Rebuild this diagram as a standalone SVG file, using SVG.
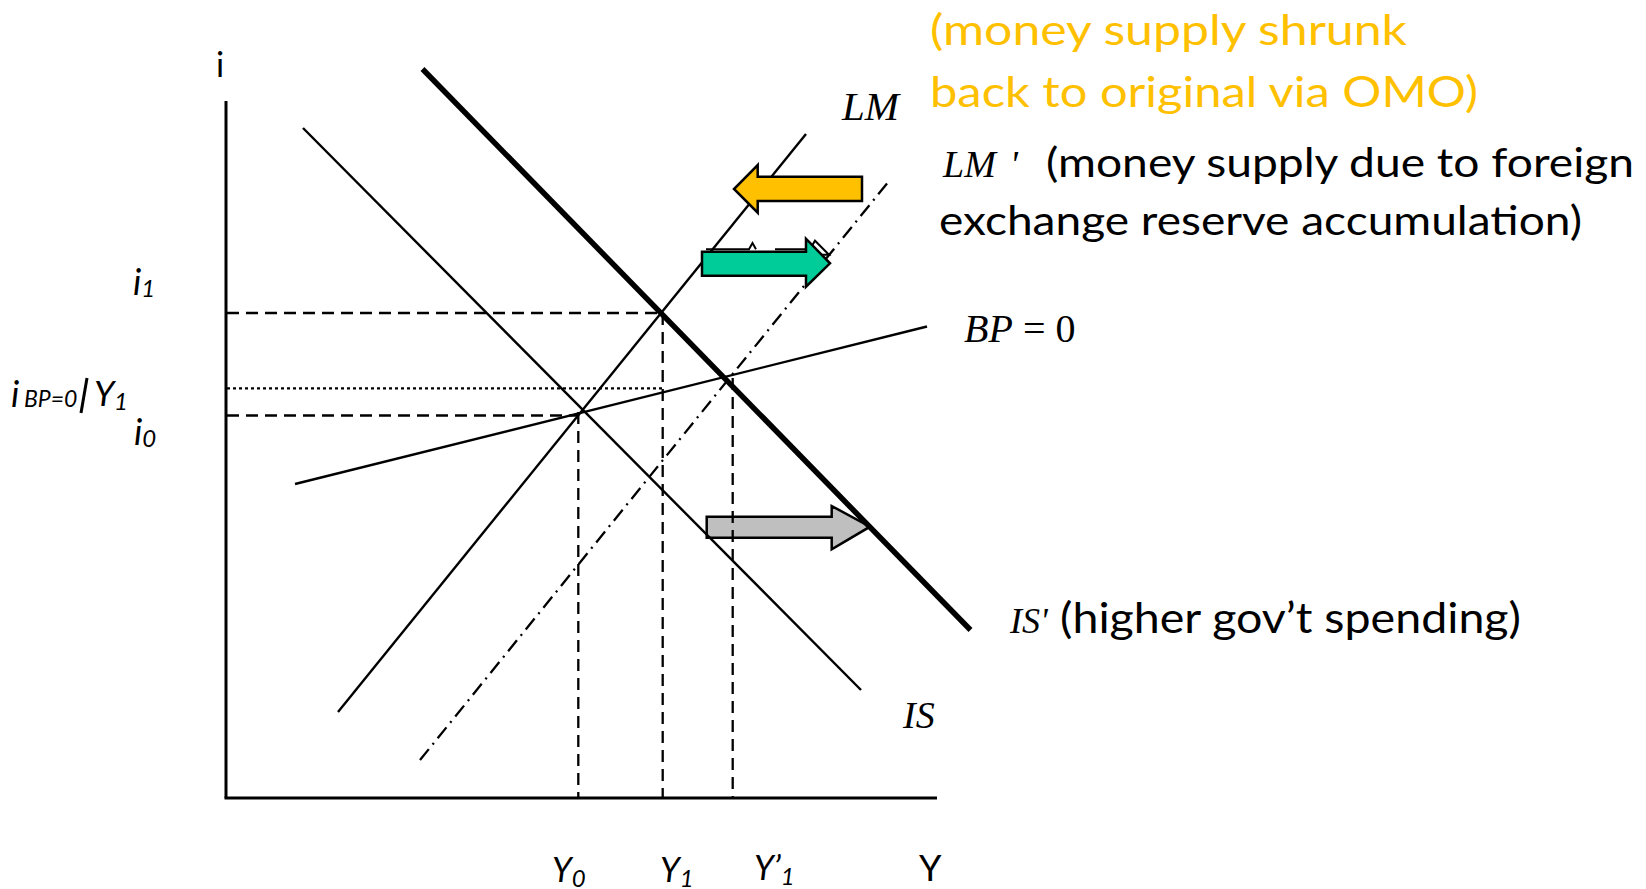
<svg xmlns="http://www.w3.org/2000/svg" width="1646" height="889" viewBox="0 0 1646 889">
<style>
.cal{font-family:Lato,"Open Sans","DejaVu Sans",sans-serif;fill:#000}
.tim{font-family:"Liberation Serif","Times New Roman",serif;font-style:italic;fill:#000}
.ax{stroke:#000;stroke-width:3;fill:none}
.ln{stroke:#000;stroke-width:2.4;fill:none}
.thick{stroke:#000;stroke-width:5.5;fill:none}
.dash{stroke:#000;stroke-width:2.3;stroke-dasharray:12 7;fill:none}
.dot{stroke:#000;stroke-width:2.3;stroke-dasharray:3 3;fill:none}
.dd{stroke:#000;stroke-width:2.3;stroke-dasharray:14 6 2 6;fill:none}
.arr{stroke:#000;stroke-width:2.5;stroke-linejoin:miter}
</style>
<rect width="1646" height="889" fill="#fff"/>

<g id="arrow-is-shift">
<polygon class="arr" fill="#BFBFBF" points="706.7,516.7 831.7,516.7 831.7,506 870,526.7 831.7,549.3 831.7,537.7 706.7,537.7"/>
</g>

<g id="connectors">
<line id="axis-y" class="ax" x1="226" y1="101" x2="226" y2="798"/>
<line id="axis-x" class="ax" x1="224.5" y1="798" x2="937" y2="798"/>
<line id="is" class="ln" x1="303" y1="128" x2="861" y2="690"/>
<line id="is-prime" class="thick" x1="422.5" y1="69" x2="970.5" y2="630"/>
<line id="lm" class="ln" x1="338" y1="712" x2="806" y2="134"/>
<line id="lm-prime" class="dd" x1="420" y1="760" x2="889" y2="181"/>
<line id="bp" class="ln" x1="295" y1="484" x2="927" y2="326.5"/>
<line class="dash" x1="227" y1="313" x2="662.7" y2="313"/>
<line class="dash" x1="662.7" y1="313" x2="662.7" y2="797"/>
<line class="dash" x1="227" y1="415.5" x2="578.3" y2="415.5"/>
<line class="dash" x1="578.3" y1="412" x2="578.3" y2="797"/>
<line class="dash" x1="732.7" y1="378" x2="732.7" y2="797"/>
<line class="dot" x1="227" y1="388.3" x2="663" y2="388.3"/>
</g>

<g id="arrow-lm-ghost">
<path d="M706,249.3 H749 L752.5,243 L756,249.3 M775,249.3 H806" stroke="#000" stroke-width="2" fill="none"/>
<polygon points="810,249.3 815,240.7 829,254.7 820,254.7" fill="#fff" stroke="#000" stroke-width="2"/>
</g>
<g id="arrow-lm-shift">
<polygon class="arr" fill="#00CC99" points="702,251.7 806,251.7 806,238.7 830,263.3 806,286.7 806,275.7 702,275.7"/>
</g>
<g id="arrow-omo">
<polygon class="arr" fill="#FFC000" points="862,176.7 757.7,176.7 757.7,165 734,189 757.7,212.7 757.7,201 862,201"/>
</g>

<g id="label-i-axis"><text class="cal" x="216" y="77" font-size="34">i</text></g>
<g id="label-y-axis"><text class="cal" x="919" y="881" font-size="36">Y</text></g>

<g id="label-i1"><text class="cal" font-style="italic" x="133" y="295" font-size="36">i<tspan font-size="24" dy="2">1</tspan></text></g>
<g id="label-ibp"><text class="cal" font-style="italic" y="407"><tspan x="11" font-size="36">i</tspan><tspan x="24" font-size="23">BP=0</tspan><tspan x="94" font-size="35" dy="-1">Y</tspan><tspan x="114" font-size="24" dy="4">1</tspan></text>
<line x1="87" y1="378" x2="81" y2="413" stroke="#000" stroke-width="3"/></g>
<g id="label-i0"><text class="cal" font-style="italic" x="134" y="445" font-size="36">i<tspan font-size="24" dy="2">0</tspan></text></g>

<g id="label-y0"><text class="cal" font-style="italic" x="552" y="882" font-size="34">Y<tspan font-size="24" dy="5">0</tspan></text></g>
<g id="label-y1"><text class="cal" font-style="italic" x="660" y="882" font-size="34">Y<tspan font-size="24" dy="5">1</tspan></text></g>
<g id="label-y1p"><text class="cal" font-style="italic" x="754" y="880" font-size="34">Y’<tspan font-size="24" dy="5">1</tspan></text></g>

<g id="label-lm"><text class="tim" x="842" y="120" font-size="41">LM</text></g>
<g id="label-lm-prime"><text class="tim" x="943" y="177" font-size="38">LM<tspan dx="14">'</tspan></text>
<text class="cal" x="1046" y="177" font-size="41" textLength="588" lengthAdjust="spacingAndGlyphs">(money supply due to foreign</text>
<text class="cal" x="939" y="235" font-size="41" textLength="643" lengthAdjust="spacingAndGlyphs">exchange reserve accumulation)</text></g>
<g id="label-omo"><text class="cal" x="930" y="45" font-size="42" style="fill:#FFC000" textLength="477" lengthAdjust="spacingAndGlyphs">(money supply shrunk</text>
<text class="cal" x="930" y="107" font-size="42" style="fill:#FFC000" textLength="548" lengthAdjust="spacingAndGlyphs">back to original via OMO)</text></g>
<g id="label-bp"><text class="tim" x="964" y="342" font-size="40"><tspan>BP</tspan><tspan font-style="normal"> = 0</tspan></text></g>
<g id="label-is"><text class="tim" x="903" y="728" font-size="38">IS</text></g>
<g id="label-is-prime"><text class="tim" x="1010" y="633" font-size="36">IS'</text>
<text class="cal" x="1060" y="633" font-size="42" textLength="461" lengthAdjust="spacingAndGlyphs">(higher gov’t spending)</text></g>
</svg>
